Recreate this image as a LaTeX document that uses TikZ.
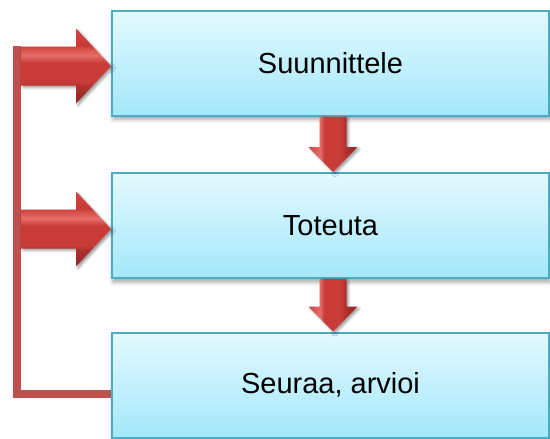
\documentclass[tikz,border=0pt]{standalone}
\usepackage{fontspec}
\setmainfont{Liberation Sans}
\usetikzlibrary{calc,shadows.blur}
\definecolor{boxtop}{HTML}{E3F9FF}
\definecolor{boxbot}{HTML}{A3E8FB}
\definecolor{boxline}{HTML}{4BACC6}
\definecolor{loopred}{HTML}{C0504D}
\definecolor{adark}{HTML}{922624}
\definecolor{aedge}{HTML}{AE302D}
\definecolor{abody}{HTML}{C83B37}
\definecolor{alight}{HTML}{E56D67}
\definecolor{ahigh}{HTML}{DA524D}
\definecolor{ahead}{HTML}{D3443F}

% bevelled red for the horizontal arrows (bottom to top)
\pgfdeclareverticalshading{hbevel}{100bp}{%
  color(0bp)=(adark); color(25bp)=(adark);
  color(36bp)=(aedge);
  color(39bp)=(abody);
  color(52bp)=(abody);
  color(57bp)=(alight);
  color(61bp)=(ahigh);
  color(63.5bp)=(abody);
  color(75bp)=(ahead); color(100bp)=(ahead)}
% bevelled red for the vertical arrows (left to right)
\pgfdeclarehorizontalshading{vbevel}{100bp}{%
  color(0bp)=(ahead); color(25bp)=(ahead);
  color(37bp)=(alight);
  color(41bp)=(abody);
  color(58bp)=(abody);
  color(63bp)=(aedge);
  color(75bp)=(adark); color(100bp)=(adark)}

% block arrow pointing down, from #1 to the tip #2
\newcommand\downblock[2]{%
  \path[vbody] let \p1=(#1), \p2=(#2) in
    (\x1-13.5pt,\y1) -- (\x1-13.5pt,\y2+25pt) -- (\x1-24.5pt,\y2+25pt) --
    (\x1,\y2) -- (\x1+24.5pt,\y2+25pt) -- (\x1+13.5pt,\y2+25pt) --
    (\x1+13.5pt,\y1) -- cycle;}
% block arrow pointing right, from #1 to the tip #2
\newcommand\rightblock[2]{%
  \path[hbody] let \p1=(#1), \p2=(#2) in
    (\x1,\y1+19.5pt) -- (\x2-35pt,\y1+19.5pt) -- (\x2-35pt,\y1+37.5pt) --
    (\x2,\y2) -- (\x2-35pt,\y1-37.5pt) -- (\x2-35pt,\y1-19.5pt) --
    (\x1,\y1-19.5pt) -- cycle;}

\begin{document}
\begin{tikzpicture}[x=1pt,y=-1pt,
  stage/.style={draw=boxline, line width=2pt, top color=boxtop,
    bottom color=boxbot, minimum width=437pt, minimum height=105pt,
    inner sep=0pt, font=\fontsize{29}{35}\selectfont,
    blur shadow={shadow xshift=1pt, shadow yshift=-4pt,
      shadow blur radius=4pt, shadow opacity=35}},
  arrshadow/.style={blur shadow={shadow xshift=2pt, shadow yshift=-2pt,
      shadow blur radius=2.5pt, shadow opacity=40}},
  hbody/.style={arrshadow, shading=hbevel},
  vbody/.style={arrshadow, shading=vbevel},
  loopline/.style={draw=loopred, line width=8pt}
]
\useasboundingbox (0,0) rectangle (550,439);

% the three stages
\node[stage] (b1) at (330.5,63)    {Suunnittele};
\node[stage] (b2) at (330.5,225.5) {Toteuta};
\node[stage] (b3) at (330.5,385)   {Seuraa, arvioi};

% feedback loop on the left
\coordinate (ltop) at (17,46);
\coordinate (lbot) at (17,393.5);
\draw[loopline] (ltop) -- (lbot) -- (lbot -| b3.west);

% arrows down between the stages
\coordinate (d1s) at ($(b1.south)+(2.5,0)$);
\coordinate (d1t) at ($(b2.north)+(2.5,0)$);
\coordinate (d2s) at ($(b2.south)+(2.5,0)$);
\coordinate (d2t) at ($(b3.north)+(2.5,0)$);
\downblock{d1s}{d1t}
\downblock{d2s}{d2t}

% arrows from the loop back into the first two stages
\coordinate (r1t) at ($(b1.west)+(0,3)$);
\coordinate (r1s) at (r1t -| 21,0);
\coordinate (r2t) at ($(b2.west)+(0,3.5)$);
\coordinate (r2s) at (r2t -| 21,0);
\rightblock{r1s}{r1t}
\rightblock{r2s}{r2t}
\end{tikzpicture}
\end{document}
